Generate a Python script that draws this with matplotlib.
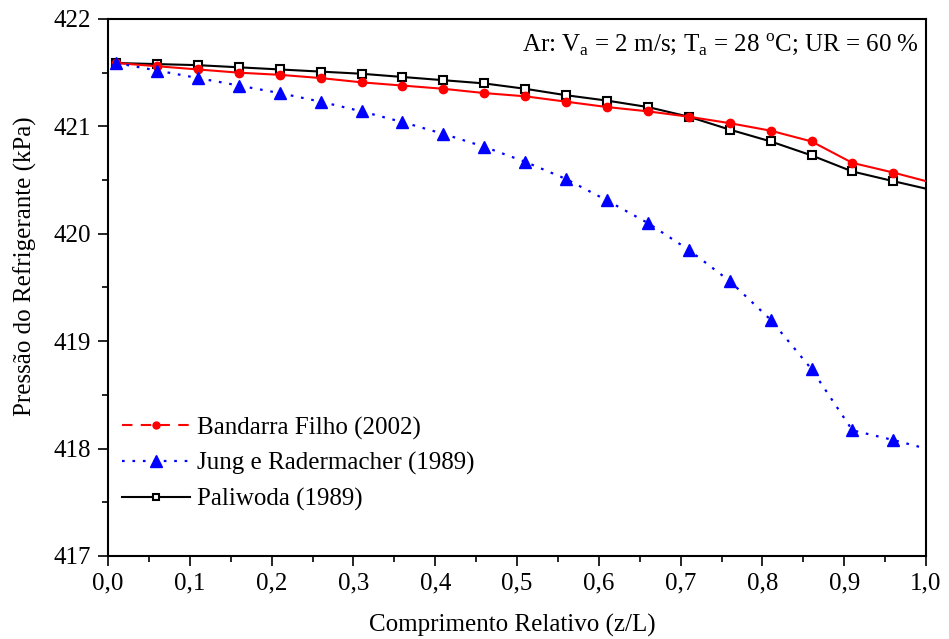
import matplotlib
matplotlib.use('Agg')
import matplotlib.pyplot as plt
from matplotlib.lines import Line2D
from matplotlib.ticker import MultipleLocator, FuncFormatter

plt.rcParams['font.family'] = ['Liberation Serif', 'DejaVu Serif']
plt.rcParams['mathtext.fontset'] = 'custom'
plt.rcParams['mathtext.rm'] = 'Liberation Serif'

# relative length z/L (markers every 0.05, line ends at 1.0)
z = [0.01, 0.06, 0.11, 0.16, 0.21, 0.26, 0.31, 0.36, 0.41, 0.46, 0.51,
     0.56, 0.61, 0.66, 0.71, 0.76, 0.81, 0.86, 0.91, 0.96, 1.0]

bandarra = [421.59, 421.56, 421.53, 421.50, 421.48, 421.45, 421.41, 421.38,
            421.35, 421.31, 421.28, 421.23, 421.18, 421.14, 421.09, 421.03,
            420.96, 420.86, 420.66, 420.57, 420.49]
jung = [421.59, 421.52, 421.45, 421.38, 421.31, 421.23, 421.14, 421.04,
        420.93, 420.81, 420.67, 420.51, 420.31, 420.10, 419.85, 419.56,
        419.20, 418.74, 418.17, 418.08, 418.00]
paliwoda = [421.59, 421.58, 421.57, 421.55, 421.53, 421.51, 421.49, 421.46,
            421.43, 421.40, 421.35, 421.29, 421.24, 421.18, 421.09, 420.97,
            420.86, 420.73, 420.58, 420.49, 420.42]

labels = ['Bandarra Filho (2002)', 'Jung e Radermacher (1989)', 'Paliwoda (1989)']
note = (r'Ar: V$_\mathregular{a}$ = 2 m/s; T$_\mathregular{a}$ = 28 '
        r'$^\mathregular{o}$C; UR = 60 %')

fs = 18

fig = plt.figure(figsize=(9.49, 6.39), dpi=100)
ax = fig.add_axes([0.1138, 0.1299, 0.862, 0.8404])

marks = list(range(len(z) - 1))
ax.plot(z, paliwoda, color='black', lw=1.5, marker='s', ms=5.5, mfc='white',
        mec='black', mew=1.5, markevery=marks, zorder=2)
ax.plot(z, bandarra, color='red', lw=1.5, marker='o', ms=6,
        markevery=marks, zorder=3)
ax.plot(z, jung, color='blue', lw=1.6, ls=(0, (1.2, 3.5)), marker='^', ms=9,
        markevery=marks, zorder=4)

handles = [
    Line2D([], [], color='red', lw=1.5, ls=(0, (5, 4)), marker='o', ms=5),
    Line2D([], [], color='blue', lw=1.6, ls=(0, (1.2, 3.5)), marker='^', ms=8),
    Line2D([], [], color='black', lw=1.5, marker='s', ms=4.5, mfc='white', mew=1.5),
]
ax.legend(handles, labels, loc='upper left', bbox_to_anchor=(-0.007, 0.297),
          frameon=False, fontsize=fs, handlelength=2.7, handletextpad=0.3,
          labelspacing=0.5, borderaxespad=0.4)

ax.text(0.991, 0.977, note, transform=ax.transAxes, ha='right', va='top',
        fontsize=fs)

ax.set_xlim(0, 1.0)
ax.set_ylim(417, 422)
ax.xaxis.set_major_locator(MultipleLocator(0.1))
ax.xaxis.set_minor_locator(MultipleLocator(0.05))
ax.yaxis.set_major_locator(MultipleLocator(1))
ax.yaxis.set_minor_locator(MultipleLocator(0.5))
ax.xaxis.set_major_formatter(FuncFormatter(lambda v, p: f'{v:.1f}'.replace('.', ',')))
ax.yaxis.set_major_formatter(FuncFormatter(lambda v, p: f'{v:.0f}'))
ax.tick_params(which='both', direction='out', top=False, right=False,
               labelsize=fs, width=1.2)
ax.tick_params(which='major', length=7, pad=5)
ax.tick_params(which='minor', length=4)
for s in ax.spines.values():
    s.set_linewidth(1.5)

ax.set_xlabel('Comprimento Relativo (z/L)', fontsize=fs)
ax.set_ylabel('Pressão do Refrigerante (kPa)', fontsize=fs)
ax.xaxis.set_label_coords(0.494, -0.108)
ax.yaxis.set_label_coords(-0.087, 0.54)

fig.savefig('out.png', dpi=100)
